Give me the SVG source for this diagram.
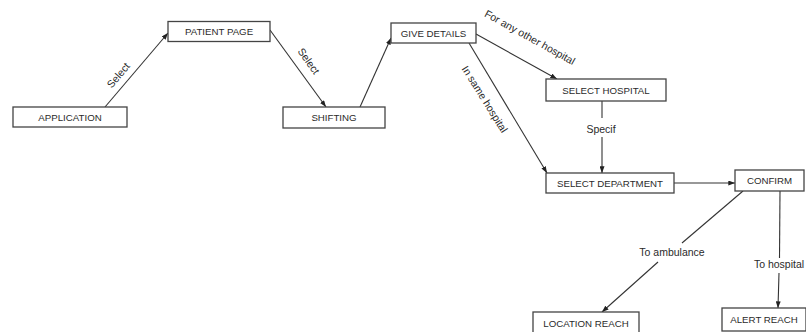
<svg xmlns="http://www.w3.org/2000/svg" width="806" height="332" viewBox="0 0 806 332">
<defs>
<marker id="ah" viewBox="0 0 8 6" refX="8" refY="3" markerWidth="7" markerHeight="5" orient="auto" markerUnits="userSpaceOnUse">
<path d="M0,0 L8,3 L0,6 Z" fill="#222"/>
</marker>
<style>
.box rect{fill:#fff;stroke:#444;stroke-width:1.3}
.box text{font-family:"Liberation Sans",Arial,sans-serif;font-size:9.7px;fill:#2a2a2a;text-anchor:middle;dominant-baseline:central}
.ln{stroke:#333;stroke-width:1.1;fill:none}
.arr{marker-end:url(#ah)}
.lbl{font-family:"Liberation Sans",Arial,sans-serif;font-size:10.5px;fill:#2a2a2a;text-anchor:middle;dominant-baseline:central}
</style>
</defs>
<rect width="806" height="332" fill="#fff"/>
<g id="connectors">
<line class="ln arr" x1="105" y1="107" x2="168" y2="33"/>
<line class="ln arr" x1="270" y1="30" x2="326" y2="107"/>
<line class="ln arr" x1="360" y1="107" x2="391" y2="38"/>
<line class="ln arr" x1="476" y1="34" x2="557" y2="79"/>
<line class="ln arr" x1="469" y1="43" x2="547" y2="173"/>
<line class="ln" x1="602" y1="101" x2="602" y2="118"/>
<line class="ln arr" x1="602" y1="137" x2="602" y2="173"/>
<line class="ln arr" x1="674" y1="183" x2="735" y2="183"/>
<line class="ln" x1="743" y1="191" x2="682" y2="243"/>
<line class="ln arr" x1="658" y1="262" x2="602" y2="312"/>
<line class="ln" x1="780" y1="191" x2="779.5" y2="258"/>
<line class="ln arr" x1="779" y1="273" x2="778" y2="308"/>
<text class="lbl" transform="translate(118,75) rotate(-50)">Select</text>
<text class="lbl" transform="translate(309,61) rotate(55)">Select</text>
<text class="lbl" transform="translate(530,37) rotate(29)">For any other hospital</text>
<text class="lbl" transform="translate(485,99) rotate(58)">In same hospital</text>
<text class="lbl" x="601" y="129">Specif</text>
<text class="lbl" x="672" y="252">To ambulance</text>
<text class="lbl" x="779" y="264">To hospital</text>
</g>
<g id="application" class="box"><rect x="13" y="107" width="114" height="20"/><text x="70" y="117">APPLICATION</text></g>
<g id="patient-page" class="box"><rect x="168" y="21.5" width="102" height="20"/><text x="219" y="31.5">PATIENT PAGE</text></g>
<g id="shifting" class="box"><rect x="283" y="107" width="102" height="21"/><text x="334" y="117.5">SHIFTING</text></g>
<g id="give-details" class="box"><rect x="391" y="23" width="85" height="20"/><text x="433.5" y="33">GIVE DETAILS</text></g>
<g id="select-hospital" class="box"><rect x="546" y="79" width="120" height="22"/><text x="606" y="90">SELECT HOSPITAL</text></g>
<g id="select-department" class="box"><rect x="546" y="173" width="128" height="20"/><text x="610" y="183">SELECT DEPARTMENT</text></g>
<g id="confirm" class="box"><rect x="735" y="170" width="69" height="21"/><text x="769.5" y="180.5">CONFIRM</text></g>
<g id="location-reach" class="box"><rect x="533" y="312" width="106" height="26"/><text x="586" y="323">LOCATION REACH</text></g>
<g id="alert-reach" class="box"><rect x="722" y="308" width="84" height="23"/><text x="764" y="319.5">ALERT REACH</text></g>
</svg>
